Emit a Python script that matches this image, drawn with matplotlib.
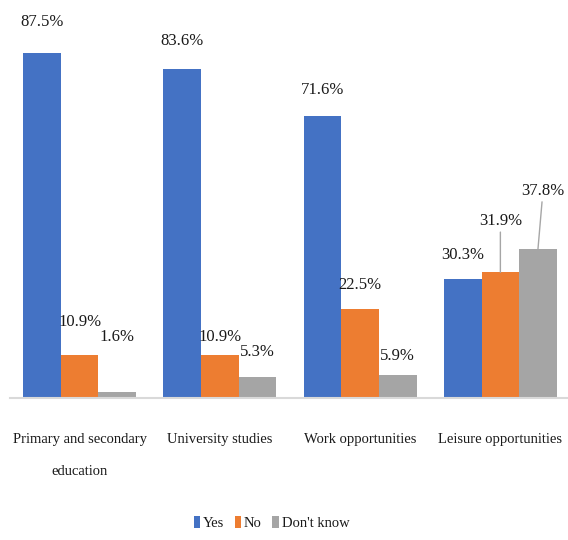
import matplotlib
matplotlib.use("Agg")
import numpy as np
import matplotlib.pyplot as plt

# =========================
# Data
# =========================
categories = ["Primary and secondary\neducation", "University studies",
              "Work opportunities", "Leisure opportunities"]
series_names = ["Yes", "No", "Don't know"]
yes_values = [87.5, 83.6, 71.6, 30.3]
no_values = [10.9, 10.9, 22.5, 31.9]
dont_know_values = [1.6, 5.3, 5.9, 37.8]

# =========================
# Style
# =========================
COLORS = ["#4472C4", "#ED7D31", "#A5A5A5"]
TEXT_COLOR = "#1a1a1a"
FONT = "Liberation Serif"
BAR_W = 0.268

# label placement (pixels above bar top, pixels sideways), per series
label_dy = [[31, 28, 26, 24], [33, 18, 24, 51], [55, 25, 19, 58]]
label_dx = [[0, 0, 0, 0], [0, 0, 0, 0], [0, 0, 0, 5]]
leader = [[False] * 4, [False, False, False, True], [False, False, False, True]]

plt.rcParams["font.family"] = [FONT, "DejaVu Serif"]

fig = plt.figure(figsize=(5.68, 5.4), dpi=100)
ax = fig.add_axes([9.5 / 568, 142 / 540, 561 / 568, 394 / 540])

x = np.arange(len(categories))
all_values = [yes_values, no_values, dont_know_values]

for j, (name, vals) in enumerate(zip(series_names, all_values)):
    pos = x + (j - 1) * BAR_W
    ax.bar(pos, vals, width=BAR_W, color=COLORS[j], label=name, zorder=2)
    for i, v in enumerate(vals):
        props = None
        if leader[j][i]:
            props = dict(arrowstyle="-", color="#a6a6a6", lw=1,
                         shrinkA=0, shrinkB=0)
        ax.annotate(f"{v:.1f}%", xy=(pos[i], v),
                    xytext=(label_dx[j][i], label_dy[j][i]),
                    textcoords="offset pixels", ha="center", va="center",
                    fontsize=12, color=TEXT_COLOR, arrowprops=props,
                    annotation_clip=False)

ax.set_xlim(-0.5, len(categories) - 0.5)
ax.set_ylim(0, 100)
ax.set_xticks(x)
ax.set_xticklabels(categories, fontsize=10.5, color=TEXT_COLOR, linespacing=2.9)
ax.tick_params(axis="x", length=0, pad=25)
ax.set_yticks([])
for side in ["top", "left", "right"]:
    ax.spines[side].set_visible(False)
ax.spines["bottom"].set_color("#d9d9d9")
ax.spines["bottom"].set_linewidth(1.5)

fig.legend(loc="center", bbox_to_anchor=(0.478, 1 - 523 / 540), ncol=3,
           frameon=False, fontsize=10.5, handlelength=0.45, handleheight=0.9,
           handletextpad=0.2, columnspacing=0.7, labelcolor=TEXT_COLOR)

fig.savefig("out.png", dpi=100)
